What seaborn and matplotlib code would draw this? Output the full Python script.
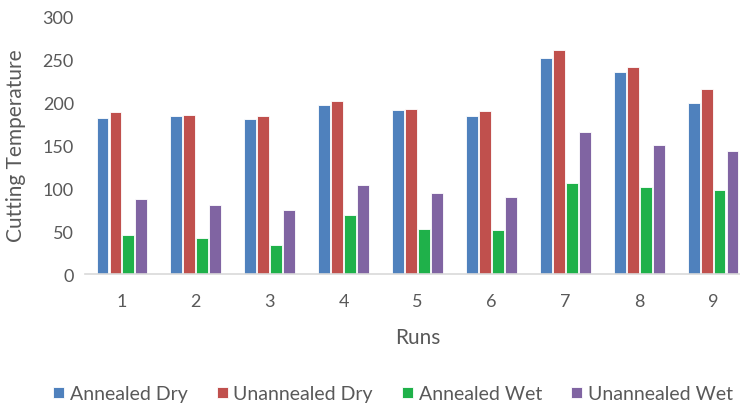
import matplotlib
matplotlib.use("Agg")
import matplotlib.pyplot as plt
import seaborn as sns
import pandas as pd

runs = ["1", "2", "3", "4", "5", "6", "7", "8", "9"]
annealed_dry = [182, 185, 181, 197.5, 192, 184.5, 252, 236, 200]
unannealed_dry = [189, 185.5, 184, 201.5, 192.5, 190, 261, 241.5, 215.5]
annealed_wet = [45, 41.5, 34, 69, 53, 51, 106.5, 102, 98.5]
unannealed_wet = [88, 80, 74.5, 103.5, 95, 90, 165.5, 151, 143]
series_names = ["Annealed Dry", "Unannealed Dry", "Annealed Wet", "Unannealed Wet"]
colors = ["#4F81BD", "#C0504D", "#1FB14A", "#8064A2"]

rows = []
for name, vals in zip(series_names, [annealed_dry, unannealed_dry, annealed_wet, unannealed_wet]):
    for r, v in zip(runs, vals):
        rows.append({"Runs": r, "Series": name, "Value": v})
df = pd.DataFrame(rows)

sns.set_theme(style="white")
plt.rcParams['font.family'] = ['Lato', 'DejaVu Sans']

fig = plt.figure(figsize=(7.4, 4.06), dpi=100)
ax = fig.add_axes([85/740, 1-275/406, (750-85)/740, (275-18)/406])

sns.barplot(data=df, x="Runs", y="Value", hue="Series", hue_order=series_names,
            palette=colors, width=0.70, gap=0.08, edgecolor="white", linewidth=0.6,
            ax=ax, saturation=1)

ax.set_ylim(0, 300)
ax.set_yticks(range(0, 301, 50))
ax.set_xlim(-0.5, 8.5)
for s in ["top", "right", "left"]:
    ax.spines[s].set_visible(False)
ax.spines["bottom"].set_color("#D9D9D9")
ax.spines["bottom"].set_linewidth(1.2)
ax.tick_params(axis="both", length=0, colors="#595959", labelsize=13)
ax.tick_params(axis="x", pad=14)
ax.tick_params(axis="y", pad=8)
ax.set_xlabel("Runs", fontsize=15, color="#595959", labelpad=13)
ax.set_ylabel("Cutting Temperature", fontsize=15, color="#595959")
ax.yaxis.set_label_coords(-(85 - 26) / (750 - 85), (275 - 146) / (275 - 18))

handles, labels = ax.get_legend_handles_labels()
ax.legend_.remove()
fig.legend(handles, labels, loc="center", bbox_to_anchor=(393/740, 1-395/406), ncol=4,
           frameon=False, fontsize=14, handlelength=0.55, handleheight=0.55,
           handletextpad=0.3, columnspacing=1.5, labelcolor="#595959")

fig.savefig("out.png", dpi=100)
